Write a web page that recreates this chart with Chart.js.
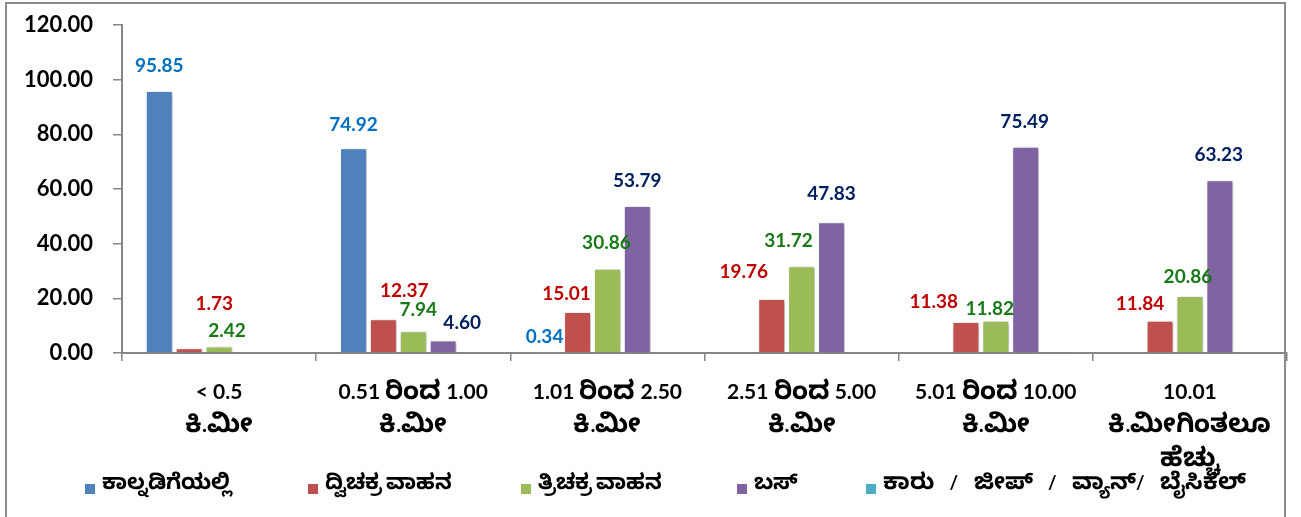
<!DOCTYPE html>
<html>
<head>
<meta charset="utf-8">
<script src="https://cdn.jsdelivr.net/npm/chart.js@4.4.1/dist/chart.umd.min.js"></script>
<style>
  @font-face {
    font-family: 'KnBig';
    src: local('Noto Sans Kannada Bold'), local('NotoSansKannada-Bold'), local('Noto Sans Kannada'), local('NotoSansKannada-Regular'), local('Lohit Kannada'), local('Gubbi'), local('Noto Serif Kannada');
    font-weight: 700;
    size-adjust: 125%;
    unicode-range: U+0C80-0CFF, U+200C-200D;
  }
  @font-face {
    font-family: 'KnBig';
    src: local('Noto Sans Kannada'), local('NotoSansKannada-Regular'), local('Lohit Kannada'), local('Gubbi'), local('Noto Serif Kannada');
    font-weight: 400;
    size-adjust: 125%;
    unicode-range: U+0C80-0CFF, U+200C-200D;
  }
  html, body { margin: 0; padding: 0; background: #fff; overflow: hidden; }
  #wrap { position: relative; width: 1301px; height: 517px; }
  #frame { position: absolute; left: 5px; top: 2px; width: 1281px; height: 600px; border: 2px solid #8c8c8c; box-sizing: border-box; pointer-events: none; }
  #legend { position: absolute; left: 85px; top: 470px; display: flex; font-family: KnBig, Lato, "Noto Sans", sans-serif; font-size: 17.4px; font-weight: bold; color: #000; white-space: nowrap; }
  #legend .item { display: flex; align-items: center; }
  #legend .item:nth-child(1) { width: 223px; }
  #legend .item:nth-child(2) { width: 213px; }
  #legend .item:nth-child(3) { width: 216px; }
  #legend .item:nth-child(4) { width: 129px; }
  #legend .item:nth-child(5) { word-spacing: 11px; font-size: 18.4px; }
  #legend .box { width: 10px; height: 10px; margin-right: 7px; margin-top: 6px; flex: none; }
</style>
</head>
<body>
<div id="wrap">
  <canvas id="chart" width="1301" height="517"></canvas>
  <div id="frame"></div>
  <div id="legend"></div>
</div>
<script>
// ದತ್ತಾಂಶ
const categories = [
  ['< 0.5', 'ಕಿ.ಮೀ'],
  ['0.51 ರಿಂದ 1.00', 'ಕಿ.ಮೀ'],
  ['1.01 ರಿಂದ 2.50', 'ಕಿ.ಮೀ'],
  ['2.51 ರಿಂದ 5.00', 'ಕಿ.ಮೀ'],
  ['5.01 ರಿಂದ 10.00', 'ಕಿ.ಮೀ'],
  ['10.01', 'ಕಿ.ಮೀಗಿಂತಲೂ', 'ಹೆಚ್ಚು']
]
const seriesNames = ['ಕಾಲ್ನಡಿಗೆಯಲ್ಲಿ', 'ದ್ವಿಚಕ್ರ ವಾಹನ', 'ತ್ರಿಚಕ್ರ ವಾಹನ', 'ಬಸ್', 'ಕಾರು / ಜೀಪ್ / ವ್ಯಾನ್/ ಬೈಸಿಕಲ್']
const walking = [95.85, 74.92, 0.34, 0, 0, 0]
const twoWheeler = [1.73, 12.37, 15.01, 19.76, 11.38, 11.84]
const threeWheeler = [2.42, 7.94, 30.86, 31.72, 11.82, 20.86]
const bus = [0, 4.60, 53.79, 47.83, 75.49, 63.23]
const carJeep = [0, 0, 0, 0, 0.5, 0]
const yTicks = [0, 20, 40, 60, 80, 100, 120]

const barColors = ['#4F81BD', '#C0504D', '#9BBB59', '#8064A2', '#4BACC6']
const labelColors = ['#0070C0', '#C00000', '#177A17', '#002060', null]

// ಲೇಬಲ್ ಸರಿಸುವಿಕೆ (dx, dy) – Excel ನಲ್ಲಿ ಕೈಯಿಂದ ಸರಿಸಿದ ಲೇಬಲ್‌ಗಳು
const labelNudge = {
  '1-0': [25, -19], '2-0': [8, 9],
  '0-1': [0, 2], '1-1': [21, -3], '2-1': [5, 4], '3-1': [19, 7],
  '0-2': [-3, 10], '1-2': [-11, 7], '2-2': [-1, -1],
  '1-3': [-28, -2], '2-3': [-13, 0], '3-3': [0, -3],
  '1-4': [-32, 5], '2-4': [-6, 13], '3-4': [-1, 0],
  '1-5': [-20, 8], '2-5': [-2, 6], '3-5': [-1, 0]
}

const fontFamily = 'KnBig, Lato, "Noto Sans", sans-serif'

const barLook = {
  id: 'barLook',
  beforeDatasetsDraw(chart) {
    const ctx = chart.ctx
    ctx.save()
    ctx.shadowColor = 'rgba(0,0,0,0.3)'
    ctx.shadowBlur = 4
    ctx.shadowOffsetX = 2
    ctx.shadowOffsetY = 1
  },
  afterDatasetsDraw(chart) {
    const ctx = chart.ctx
    ctx.restore()
    ctx.save()
    ctx.font = 'bold 19px ' + fontFamily
    ctx.textAlign = 'center'
    ctx.textBaseline = 'middle'
    chart.data.datasets.forEach((ds, i) => {
      if (!labelColors[i]) return
      chart.getDatasetMeta(i).data.forEach((bar, j) => {
        const v = ds.data[j]
        if (!v) return
        const n = labelNudge[i + '-' + j] || [0, 0]
        ctx.fillStyle = labelColors[i]
        ctx.fillText(v.toFixed(2), bar.x + n[0], bar.y - 25 + n[1])
      })
    })
    ctx.restore()
  }
}

const seriesData = [walking, twoWheeler, threeWheeler, bus, carJeep]

function drawChart() {
  const chart = new Chart(document.getElementById('chart'), {
    type: 'bar',
    data: {
      labels: categories,
      datasets: seriesData.map((d, i) => ({
        label: seriesNames[i],
        data: d,
        backgroundColor: barColors[i],
        borderColor: '#ffffff',
        borderWidth: 1,
        categoryPercentage: 0.77,
        barPercentage: 0.9
      }))
    },
    options: {
      responsive: false,
      animation: false,
      layout: { padding: { left: 0, top: 25, right: 14, bottom: 0 } },
      plugins: {
        legend: { display: false },
        tooltip: { enabled: false }
      },
      scales: {
        x: {
          grid: { drawOnChartArea: false, drawTicks: true, tickLength: 8, color: '#868686', lineWidth: 1.5, offset: true },
          border: { color: '#868686', width: 2 },
          ticks: {
            color: '#000',
            font: { family: fontFamily, size: 21, weight: 'bold', lineHeight: 1.6 },
            maxRotation: 0,
            autoSkip: false,
            padding: 14
          },
          afterFit(scale) { scale.height = 164 }
        },
        y: {
          min: 0,
          max: 120,
          afterBuildTicks(scale) { scale.ticks = yTicks.map(v => ({ value: v })) },
          grid: { drawOnChartArea: false, drawTicks: true, tickLength: 9, color: '#868686', lineWidth: 1.5 },
          border: { color: '#868686', width: 2 },
          ticks: {
            color: '#000',
            font: { family: fontFamily, size: 22, weight: 'bold' },
            padding: 20,
            callback: v => v.toFixed(2)
          },
          afterFit(scale) {
            scale.width = 122
            scale.paddingTop = 10
            scale.paddingBottom = 10
          }
        }
      }
    },
    plugins: [barLook]
  })

  // ಲೆಜೆಂಡ್
  const legendEl = document.getElementById('legend')
  chart.data.datasets.forEach(ds => {
    const item = document.createElement('div')
    item.className = 'item'
    item.innerHTML = '<span class="box" style="background:' + ds.backgroundColor + '"></span><span>' + ds.label + '</span>'
    legendEl.appendChild(item)
  })
}

Promise.all([
  document.fonts.load('bold 18px KnBig', 'ಕಿ'),
  document.fonts.load('18px KnBig', 'ಕಿ')
]).catch(() => {}).then(drawChart)
</script>
</body>
</html>
